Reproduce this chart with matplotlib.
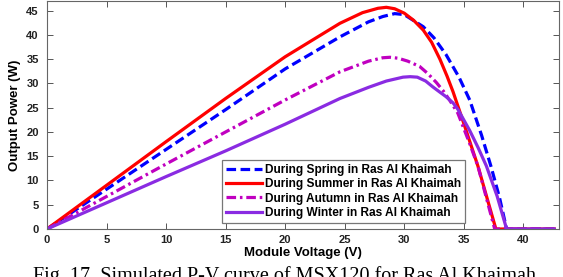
import matplotlib
matplotlib.use('Agg')
import matplotlib.pyplot as plt

# Curvas P-V (V en voltios, P en vatios)
spring_v = [0, 5, 10, 15, 20, 24.6, 27, 28.2, 29.2, 30, 31.6, 32.5, 33.5, 34.6, 35.5, 36.5, 37.3, 38, 38.6, 42.6]
spring_p = [0, 8.2, 16.4, 24.6, 33.0, 39.6, 42.7, 43.8, 44.4, 44.2, 41.7, 39.4, 36.0, 31.3, 26.6, 19.3, 12.8, 6.5, 0, 0]

summer_v = [0, 5, 10, 15, 20, 24.6, 26.5, 27.8, 28.5, 29.2, 30, 30.8, 31.6, 32.3, 33, 33.6, 34.1, 35, 36.2, 37, 37.7, 42.6]
summer_p = [0, 9.0, 18.0, 26.9, 35.5, 42.4, 44.6, 45.5, 45.7, 45.4, 44.5, 43.0, 41.0, 38.5, 35.0, 31.5, 28.3, 21.8, 12.9, 6.0, 0, 0]

autumn_v = [0, 5, 10, 15, 20, 24.6, 27, 28.2, 28.8, 29.5, 30.3, 31.3, 32, 32.7, 33.3, 33.8, 34.5, 35.5, 36.2, 37, 37.6, 42.6]
autumn_p = [0, 6.7, 13.4, 20.0, 26.6, 32.4, 34.6, 35.3, 35.4, 35.2, 34.6, 33.5, 32.0, 30.2, 28.4, 26.6, 23.9, 17.6, 12.9, 5.5, 0, 0]

winter_v = [0, 5, 10, 15, 20, 24.6, 27, 28.5, 29.9, 30.5, 31.1, 31.8, 32.4, 33, 33.5, 34.1, 34.5, 35.5, 36.2, 36.9, 37.8, 38.6, 42.6]
winter_p = [0, 5.4, 10.8, 16.1, 21.6, 26.9, 29.2, 30.5, 31.3, 31.4, 31.3, 30.5, 29.3, 28.2, 27.3, 26.0, 24.7, 20.3, 16.8, 13.0, 6.8, 0, 0]

labels = ['During Spring in Ras Al Khaimah', 'During Summer in Ras Al Khaimah',
          'During Autumn in Ras Al Khaimah', 'During Winter in Ras Al Khaimah']
x_ticks = [0, 5, 10, 15, 20, 25, 30, 35, 40]
y_ticks = [0, 5, 10, 15, 20, 25, 30, 35, 40, 45]

plt.rcParams['font.family'] = ['Liberation Sans', 'DejaVu Sans']
plt.rcParams['font.weight'] = 'bold'

fig = plt.figure(figsize=(5.63, 2.77), dpi=100)
ax = fig.add_axes([47 / 563, 48 / 277, 512 / 563, 228 / 277])

lw = 2.3
ax.plot(spring_v, spring_p, color='#0000ff', lw=lw, linestyle=(0, (3, 1.4)), label=labels[0])
ax.plot(summer_v, summer_p, color='#ff0000', lw=lw, label=labels[1])
ax.plot(autumn_v, autumn_p, color='#c000c0', lw=lw, linestyle=(0, (3, 1.2, 0.8, 1.2)), label=labels[2])
ax.plot(winter_v, winter_p, color='#8a2be2', lw=lw, label=labels[3])

ax.set_xlim(0, 43)
ax.set_ylim(0, 47)
ax.set_xticks(x_ticks)
ax.set_yticks(y_ticks)
ax.tick_params(direction='in', top=True, right=True, length=4, width=0.7,
               labelsize=8, colors='#555555', labelcolor='#222222')
ax.tick_params(axis='y', pad=6)
ax.tick_params(axis='x', pad=4)
for s in ax.spines.values():
    s.set_color('#666666')
    s.set_linewidth(0.8)

ax.set_xlabel('Module Voltage (V)', fontsize=9.5, fontweight='bold', labelpad=2)
ax.set_ylabel('Output Power (W)', fontsize=9.5, fontweight='bold', labelpad=4)

leg = ax.legend(loc='lower left', bbox_to_anchor=(0.342, 0.026), borderaxespad=0,
                handlelength=3.0, handletextpad=0.25, labelspacing=0.2,
                borderpad=0.35, fancybox=False, framealpha=1, edgecolor='#777777',
                prop={'weight': 'bold', 'size': 8.6})
leg.get_frame().set_linewidth(0.9)

fig.text(0.506, -0.0144, 'Fig. 17. Simulated P-V curve of MSX120 for Ras Al Khaimah',
         ha='center', va='baseline', family='Liberation Serif', fontsize=14.5,
         fontweight='normal')

fig.savefig('out.png', dpi=100)
